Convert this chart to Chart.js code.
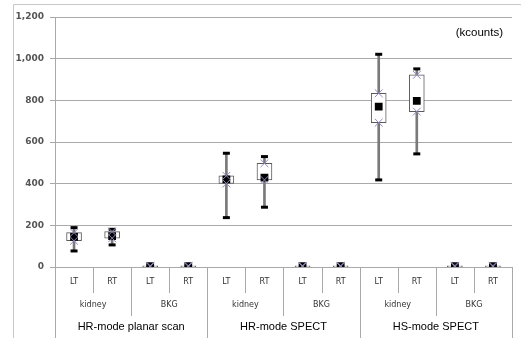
<!DOCTYPE html>
<html>
<head>
<meta charset="utf-8">
<script src="https://cdn.jsdelivr.net/npm/chart.js@4.4.1/dist/chart.umd.min.js"></script>
<style>
  html, body { margin: 0; padding: 0; background: #fff; }
  #wrap { width: 521px; height: 338px; position: relative; }
</style>
</head>
<body>
<div id="wrap"><canvas id="boxChart"></canvas></div>
<script>
// categories (three label rows under the x axis)
const sides = ["LT", "RT", "LT", "RT", "LT", "RT", "LT", "RT", "LT", "RT", "LT", "RT"];
const regions = ["kidney", "BKG", "kidney", "BKG", "kidney", "BKG"];
const modes = ["HR-mode planar scan", "HR-mode SPECT", "HS-mode SPECT"];

// values in kcounts
const maxVals = [189, 181, 9, 9, 546, 530, 9, 9, 1021, 951, 9, 9];
const minVals = [77, 106, 0, 0, 237, 287, 0, 0, 418, 543, 0, 0];
const boxTop = [165, 170, 6, 6, 438, 498, 6, 6, 834, 922, 6, 6];
const boxBottom = [126, 138, 2, 2, 401, 418, 2, 2, 693, 746, 2, 2];
const meanVals = [145, 148, 4, 4, 421, 429, 4, 4, 770, 797, 4, 4];

const yMax = 1200;
const yStep = 200;
const unitLabel = "(kcounts)";

const gridGray = "#a9a9a9";

// extra labels, separators and frame under the axis
const axisExtras = {
    id: "axisExtras",
    beforeDraw(chart) {
        const ctx = chart.ctx;
        ctx.save();
        ctx.strokeStyle = "#c8c8c8";
        ctx.lineWidth = 1;
        ctx.beginPath();
        ctx.moveTo(13.5, chart.height);
        ctx.lineTo(13.5, 4.5);
        ctx.lineTo(chart.width, 4.5);
        ctx.stroke();
        ctx.restore();
    },
    afterDraw(chart) {
        const ctx = chart.ctx;
        const xs = chart.scales.x;
        const area = chart.chartArea;
        const w = (xs.right - xs.left) / sides.length;
        const y0 = xs.top;
        ctx.save();
        ctx.strokeStyle = gridGray;
        ctx.lineWidth = 1;
        for (let i = 0; i <= sides.length; i++) {
            const px = Math.round(xs.getPixelForValue(Math.min(i, sides.length - 1)) + (i < sides.length ? -w / 2 : w / 2)) + 0.5;
            let bottom = y0 + 26;
            if (i % 4 === 0) bottom = chart.height;
            else if (i % 2 === 0) bottom = y0 + 49;
            ctx.beginPath();
            ctx.moveTo(px, y0);
            ctx.lineTo(px, bottom);
            ctx.stroke();
        }
        ctx.fillStyle = "#333";
        ctx.textAlign = "center";
        ctx.textBaseline = "middle";
        ctx.font = "8px 'DejaVu Sans'";
        regions.forEach((r, g) => {
            const cx = (xs.getPixelForValue(2 * g) + xs.getPixelForValue(2 * g + 1)) / 2;
            ctx.fillText(r, cx, y0 + 38);
        });
        ctx.fillStyle = "#000";
        ctx.font = "11px 'Liberation Sans'";
        modes.forEach((m, k) => {
            const cx = (xs.getPixelForValue(4 * k) + xs.getPixelForValue(4 * k + 3)) / 2;
            ctx.fillText(m, cx, y0 + 60);
        });
        ctx.font = "11.5px 'Liberation Sans'";
        ctx.textAlign = "right";
        ctx.fillText(unitLabel, area.right - 9, area.top + 16);
        ctx.restore();
    }
};

const ctx = document.getElementById("boxChart").getContext("2d");
const boxChart = new Chart(ctx, {
    type: "bar",
    data: {
        labels: sides,
        datasets: [
            {
                label: "range",
                data: minVals.map((v, i) => [v, maxVals[i]]),
                backgroundColor: "#7a7a7a",
                barThickness: 2,
                grouped: false,
                order: 6
            },
            {
                label: "box",
                data: boxBottom.map((v, i) => [v, boxTop[i]]),
                backgroundColor: "#ffffff",
                borderColor: "#5a5a5a",
                borderWidth: 1,
                borderSkipped: false,
                barThickness: 15,
                grouped: false,
                order: 5
            },
            {
                type: "line",
                label: "max",
                data: maxVals,
                showLine: false,
                pointStyle: "line",
                pointRadius: 3.5,
                pointBorderWidth: 3,
                borderColor: "#000",
                pointBorderColor: "#000",
                order: 4
            },
            {
                type: "line",
                label: "min",
                data: minVals,
                showLine: false,
                pointStyle: "line",
                pointRadius: 3.5,
                pointBorderWidth: 3,
                borderColor: "#000",
                pointBorderColor: "#000",
                order: 4
            },
            {
                type: "line",
                label: "mean",
                data: meanVals,
                showLine: false,
                pointStyle: "rect",
                pointRadius: 5.5,
                pointBorderWidth: 0,
                pointBackgroundColor: "#000",
                pointBorderColor: "#000",
                order: 3
            },
            {
                type: "line",
                label: "upper",
                data: boxTop,
                showLine: false,
                pointStyle: "crossRot",
                pointRadius: 5.5,
                pointBorderWidth: 1,
                borderColor: "#9488c0",
                pointBorderColor: "#9488c0",
                order: 2
            },
            {
                type: "line",
                label: "lower",
                data: boxBottom,
                showLine: false,
                pointStyle: "crossRot",
                pointRadius: 5.5,
                pointBorderWidth: 1,
                borderColor: "#9488c0",
                pointBorderColor: "#9488c0",
                order: 2
            }
        ]
    },
    options: {
        responsive: true,
        maintainAspectRatio: false,
        animation: false,
        events: [],
        layout: { padding: { left: 13, top: 17, right: 9, bottom: 0 } },
        plugins: {
            legend: { display: false },
            tooltip: { enabled: false }
        },
        scales: {
            x: {
                offset: true,
                grid: { display: false, drawTicks: false },
                border: { display: true, color: gridGray, width: 1 },
                ticks: {
                    color: "#333",
                    font: { family: "DejaVu Sans", size: 8 },
                    padding: 10,
                    maxRotation: 0,
                    autoSkip: false
                },
                afterFit(scale) { scale.height = 71; }
            },
            y: {
                min: 0,
                max: yMax,
                grid: { color: gridGray, tickLength: 5 },
                border: { display: true, color: gridGray, width: 1 },
                ticks: {
                    stepSize: yStep,
                    color: "#555",
                    font: { family: "DejaVu Sans", size: 9, weight: "bold" },
                    padding: 6,
                    callback: (v) => v.toLocaleString("en-US")
                },
                afterFit(scale) { scale.width = 42; }
            }
        }
    },
    plugins: [axisExtras]
});
</script>
</body>
</html>
